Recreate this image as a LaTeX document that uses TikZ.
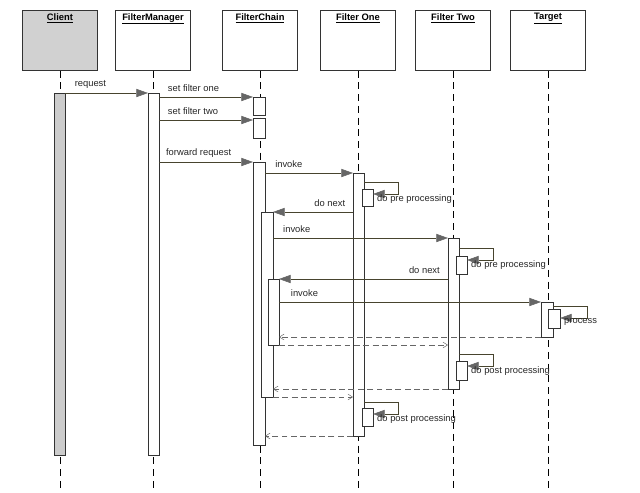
\documentclass[tikz,border=0pt]{standalone}
\usepackage{fontspec}
\setmainfont{Liberation Sans}
\usetikzlibrary{arrows.meta}
\begin{document}
\begin{tikzpicture}[x=0.03cm,y=-0.03cm,
  font=\fontsize{8}{9.5}\selectfont,
  head/.style={draw=black!80,line width=0.6pt,fill=white,minimum width=75*0.03cm,minimum height=60*0.03cm,anchor=north,inner sep=2pt},
  life/.style={draw=black,dash pattern=on 6pt off 4pt,line width=0.5pt},
  act/.style={draw=black!80,fill=white,line width=0.5pt},
  msg/.style={draw=black!65!olive,line width=0.5pt,-{Triangle[length=10pt,width=7pt,fill=black!60,color=black!60]}},
  ret/.style={draw=black!60,dash pattern=on 5pt off 3pt,line width=0.5pt,-{Straight Barb[length=4pt,width=5pt,line width=0.4pt]}},
  lbl/.style={anchor=south west,inner sep=1pt,text=black!85},
]
\useasboundingbox (0,0) rectangle (640,492);
% heads
\foreach \n/\x/\t/\f in {cl/60/Client/black!18,fm/153/FilterManager/white,fc/260/FilterChain/white,f1/358/Filter One/white,f2/453/Filter Two/white,tg/548/Target/white}{
  \node[head,fill=\f] (\n) at (\x,10) {};
  \node[anchor=north,inner sep=0pt,font=\fontsize{8}{9.5}\selectfont\bfseries] at (\x,13) {\underline{\t}};
  \coordinate (\n-end) at (\x,492);
  \draw[life] (\n.south) -- (\n-end);
}
% activations
\draw[act,fill=black!20] (54,93) rectangle (65,455);
\draw[act] (148,93) rectangle (159,455);
\draw[act] (253,97) rectangle (265,115);
\draw[act] (253,118) rectangle (265,138);
\draw[act] (253,162) rectangle (265,445);
\draw[act] (261,212) rectangle (273,397);
\draw[act] (268,279) rectangle (279,345);
\draw[act] (353,173) rectangle (364,436);
\draw[act] (448,238) rectangle (459,389);
\draw[act] (541,302) rectangle (553,337);
% self boxes
\draw[act] (362,189) rectangle (373,206);
\draw[act] (362,408) rectangle (373,426);
\draw[act] (456,256) rectangle (467,274);
\draw[act] (456,361) rectangle (467,380);
\draw[act] (548,309) rectangle (560,328);
% messages
\coordinate (a1) at (65,93); \coordinate (b1) at (148,93);
\draw[msg] (a1) -- node[lbl,pos=0.1,yshift=3pt]{request} (b1);
\coordinate (a2) at (159,97); \coordinate (b2) at (253,97);
\draw[msg] (a2) -- node[lbl,pos=0.08,yshift=3pt]{set filter one} (b2);
\coordinate (a3) at (159,120); \coordinate (b3) at (253,120);
\draw[msg] (a3) -- node[lbl,pos=0.08,yshift=3pt]{set filter two} (b3);
\coordinate (a4) at (159,162); \coordinate (b4) at (253,162);
\draw[msg] (a4) -- node[lbl,pos=0.06,yshift=3pt]{forward request} (b4);
\coordinate (a5) at (265,173); \coordinate (b5) at (353,173);
\draw[msg] (a5) -- node[lbl,pos=0.1,yshift=3pt]{invoke} (b5);
\coordinate (a6) at (353,212); \coordinate (b6) at (273,212);
\draw[msg] (a6) -- node[lbl,pos=0.08,anchor=south east,yshift=3pt]{do next} (b6);
\coordinate (a7) at (273,238); \coordinate (b7) at (448,238);
\draw[msg] (a7) -- node[lbl,pos=0.05,yshift=3pt]{invoke} (b7);
\coordinate (a8) at (448,279); \coordinate (b8) at (279,279);
\draw[msg] (a8) -- node[lbl,pos=0.04,anchor=south east,yshift=3pt]{do next} (b8);
\coordinate (a9) at (279,302); \coordinate (b9) at (541,302);
\draw[msg] (a9) -- node[lbl,pos=0.04,yshift=3pt]{invoke} (b9);
% self loops
\foreach \x/\y/\e/\t in {364/182/373/do pre processing, 364/402/373/do post processing, 459/248/467/do pre processing, 459/354/467/do post processing, 553/306/560/process}{
  \draw[msg] (\x,\y) -- (\x+34,\y) -- (\x+34,\y+12) -- (\e,\y+12);
  \node[anchor=north west,inner sep=0pt,text=black!85] at (\e+4,\y+12) {\t};
}
% returns
\coordinate (r1a) at (541,337); \coordinate (r1b) at (279,337);
\draw[ret] (r1a) -- (r1b);
\coordinate (r2a) at (279,345); \coordinate (r2b) at (448,345);
\draw[ret] (r2a) -- (r2b);
\coordinate (r3a) at (448,389); \coordinate (r3b) at (273,389);
\draw[ret] (r3a) -- (r3b);
\coordinate (r4a) at (273,397); \coordinate (r4b) at (353,397);
\draw[ret] (r4a) -- (r4b);
\coordinate (r5a) at (353,436); \coordinate (r5b) at (265,436);
\draw[ret] (r5a) -- (r5b);
\end{tikzpicture}
\end{document}
